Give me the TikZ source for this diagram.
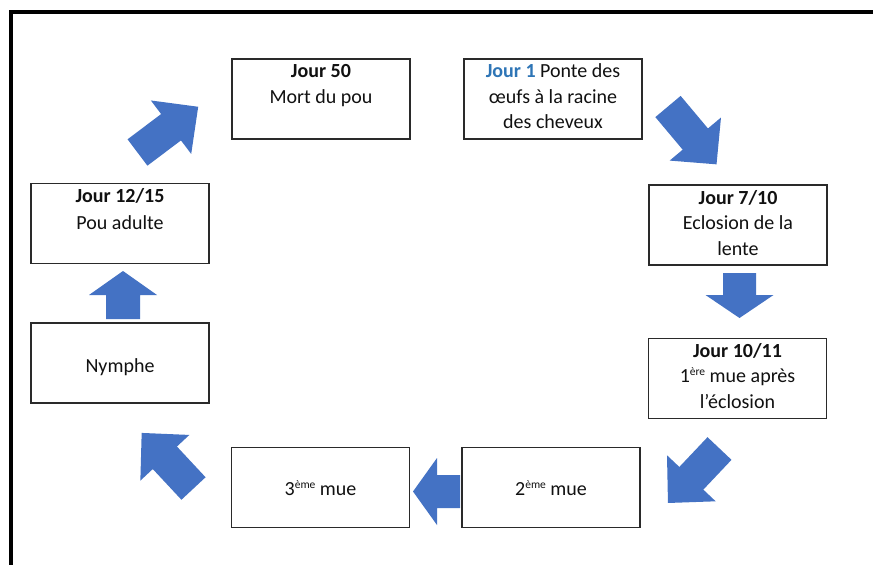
\documentclass[tikz,border=0pt]{standalone}
\usepackage{fontspec}
\setmainfont{Carlito}
\definecolor{arrowblue}{HTML}{4472C4}
\definecolor{jourblue}{HTML}{2E75B6}
\definecolor{boxline}{HTML}{2A2A2A}
\definecolor{txt}{HTML}{111111}
\newcommand\supr[1]{\raisebox{7pt}{\fontsize{11.5}{11.5}\selectfont #1}}
\tikzset{
  pics/blockarrow/.style args={#1/#2/#3/#4}{code={
    \fill[arrowblue] (0,{-#3/2}) -- ({#1-#2},{-#3/2}) -- ({#1-#2},{-#4/2}) -- (#1,0)
      -- ({#1-#2},{#4/2}) -- ({#1-#2},{#3/2}) -- (0,{#3/2}) -- cycle;
  }}
}
\begin{document}
\begin{tikzpicture}[x=1pt,y=1pt,
  box/.style={draw=boxline, line width=1.5pt, fill=white, inner sep=0pt,
              minimum width=178pt, minimum height=80pt},
  lbl/.style={inner sep=0pt, align=center, text=txt,
              font=\fontsize{20}{25.5}\selectfont}]
\useasboundingbox (0,0) rectangle (873,-565);
\fill[white] (0,0) rectangle (873,-565);
\draw[line width=4pt] (11,-565) -- (11,-11.7) -- (873,-11.7);

% boxes
\node[box] (j50)   at (321,-99)   {};
\node[box] (j1)    at (553,-99)   {};
\node[box] (j710)  at (738,-225)  {};
\node[box] (j1011) at (737.5,-378.5) {};
\node[box] (m2)    at (551,-487.5) {};
\node[box] (m3)    at (320.5,-487.5) {};
\node[box] (j1215) at (120,-223.5) {};
\node[box] (nym)   at (120,-363)  {};

% texts
\node[lbl, anchor=north] (j50t) at ([yshift=-6pt]j50.north) {\textbf{Jour 50}\\Mort du pou};
\node[lbl, anchor=north] (j1t) at ([yshift=-5.5pt]j1.north)
  {\textcolor{jourblue}{\textbf{Jour 1}} Ponte des\\œufs à la racine\\des cheveux};
\node[lbl, anchor=north] (j710t) at ([yshift=-6pt]j710.north) {\textbf{Jour 7/10}\\Eclosion de la\\lente};
\node[lbl, anchor=north] (j1011t) at ([yshift=-5.5pt]j1011.north) {\textbf{Jour 10/11}\\1\supr{ère} mue après\\l’éclosion};
\node[lbl, anchor=north] (j1215t) at ([yshift=-5.5pt]j1215.north) {\textbf{Jour 12/15}\\[2pt]Pou adulte};
\node[lbl, anchor=base] (nymt) at ([yshift=-9pt]nym.center) {Nymphe};
\node[lbl, anchor=base] (m2t) at ([yshift=-8pt]m2.center) {2\supr{ème} mue};
\node[lbl, anchor=base] (m3t) at ([yshift=-8pt]m3.center) {3\supr{ème} mue};

% block arrows
\pic[rotate=37]     at (137.5,-152.5) {blockarrow=76/34/33/67};
\pic[rotate=-50]    at (668,-106.5)   {blockarrow=75.5/33/33/67};
\pic[rotate=-90]    at (739.5,-273)   {blockarrow=45/23/33/68};
\pic[rotate=-133.4] at (719.5,-448.5) {blockarrow=75/34/33/67};
\pic[rotate=180]    at (460,-491.5)   {blockarrow=47/24/33/67};
\pic[rotate=133]    at (193.5,-488.5) {blockarrow=76/34/33/67};
\pic[rotate=90]     at (123,-319)     {blockarrow=48/24/34/68};
\end{tikzpicture}
\end{document}
